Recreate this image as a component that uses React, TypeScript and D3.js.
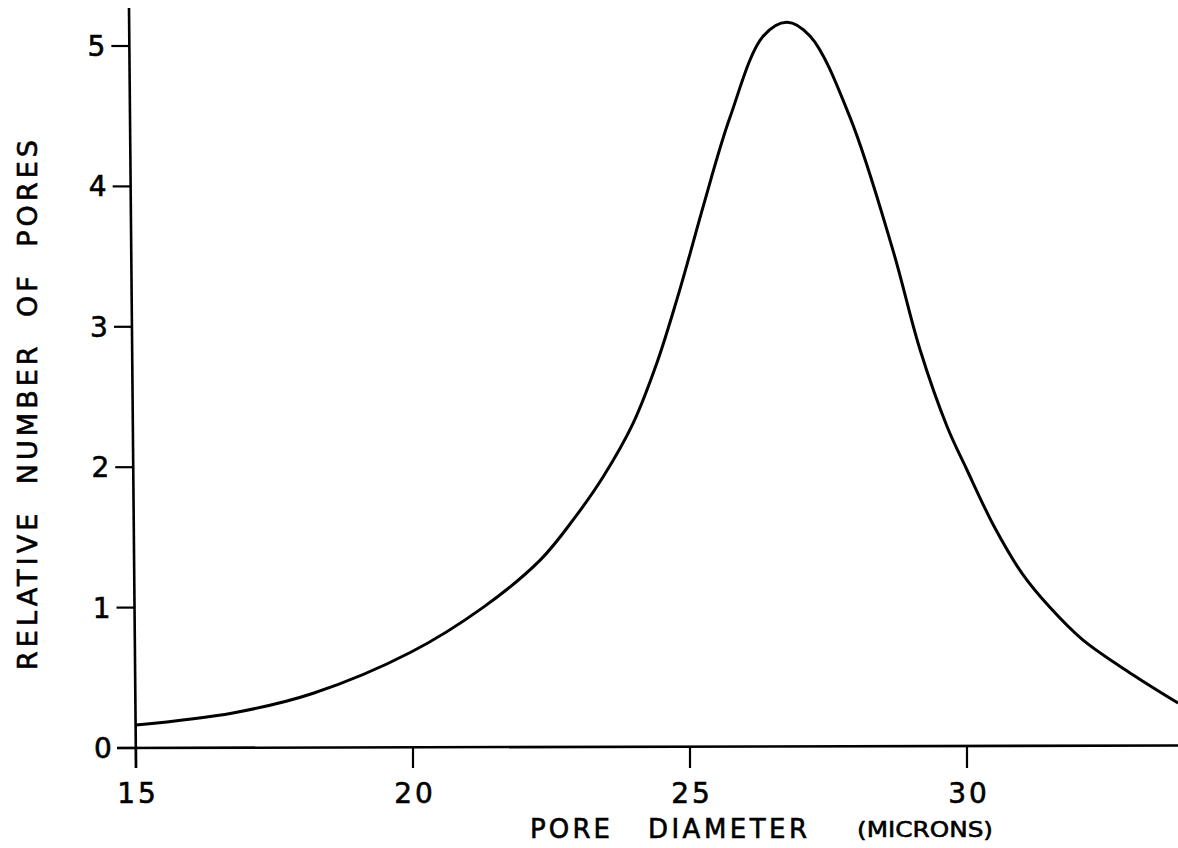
import React from "react";
import * as d3 from "d3";

// Pore size distribution: relative number of pores vs pore diameter (microns)
const poreDiameter = [
  15, 16.75, 18.2, 19.95, 21.26, 22.3, 22.9, 23.43, 23.97, 24.4, 24.76, 25.0,
  25.24, 25.72, 26.32, 26.75, 27.17, 27.89, 28.66, 29.15, 29.64, 30.0, 30.5,
  31.0, 31.5, 32.09, 33.0, 33.81,
];
const relativeNumber = [
  0.164, 0.25, 0.39, 0.68, 1.0, 1.34, 1.63, 1.93, 2.31, 2.74, 3.19, 3.52, 3.86,
  4.49, 5.07, 5.17, 5.07, 4.49, 3.55, 2.84, 2.29, 1.98, 1.57, 1.24, 1.0, 0.77,
  0.52, 0.32,
];
const xTicks = [15, 20, 25, 30];
const yTicks = [0, 1, 2, 3, 4, 5];

const W = 1178;
const H = 848;
const FONT = "'DejaVu Sans', sans-serif";

export default function App() {
  const x = d3.scaleLinear().domain([15, 34]).range([136, 136 + 19 * 55.4]);
  const y = d3.scaleLinear().domain([0, 5]).range([748, 46]);

  // the hand-drawn vertical axis leans slightly
  const axisTop = 8;
  const axisBottom = 768;
  const axisX = (py: number) => 129 + ((py - axisTop) * 7) / (axisBottom - axisTop);

  const points: [number, number][] = poreDiameter.map((d, i) => [d, relativeNumber[i]]);
  const line = d3
    .line<[number, number]>()
    .x((d) => x(d[0]))
    .y((d) => y(d[1]))
    .curve(d3.curveCatmullRom.alpha(0.5));

  const textStyle = { stroke: "#000", strokeWidth: 0.6 };

  return (
    <svg
      width={W}
      height={H}
      viewBox={`0 0 ${W} ${H}`}
      style={{ position: "absolute", left: 0, top: 0, background: "#fff" }}
    >
      <rect x={0} y={0} width={W} height={H} fill="#fff" />
      {/* axes */}
      <line
        x1={axisX(axisTop)}
        y1={axisTop}
        x2={axisX(axisBottom)}
        y2={axisBottom}
        stroke="#000"
        strokeWidth={2.6}
      />
      <line x1={117} y1={y(0)} x2={W} y2={y(0) - 2.5} stroke="#000" strokeWidth={2.6} />

      {/* y ticks */}
      {yTicks.map((t) => {
        const py = y(t);
        const ax = axisX(py);
        return (
          <g key={`y${t}`}>
            <line x1={ax - 18} y1={py} x2={ax} y2={py} stroke="#000" strokeWidth={2.2} />
            <text
              x={ax - 24}
              y={py}
              dy="0.36em"
              textAnchor="end"
              fontFamily={FONT}
              fontSize={28}
              fill="#000"
              style={textStyle}
            >
              {t}
            </text>
          </g>
        );
      })}

      {/* x ticks */}
      {xTicks.map((t) => (
        <g key={`x${t}`}>
          <line
            x1={x(t)}
            y1={y(0) - (x(t) - 117) * (2.5 / (W - 117))}
            x2={x(t)}
            y2={768}
            stroke="#000"
            strokeWidth={2.2}
          />
          <text
            x={x(t) + 2}
            y={803}
            textAnchor="middle"
            fontFamily={FONT}
            fontSize={28}
            letterSpacing={3}
            fill="#000"
            style={textStyle}
          >
            {t}
          </text>
        </g>
      ))}

      {/* curve */}
      <path d={line(points) ?? ""} fill="none" stroke="#000" strokeWidth={3} />

      {/* axis titles */}
      <text x={530} y={838} fontFamily={FONT} fontSize={26} fill="#000" style={textStyle} textLength={80} lengthAdjust="spacing">
        PORE
      </text>
      <text x={648} y={838} fontFamily={FONT} fontSize={26} fill="#000" style={textStyle} textLength={159} lengthAdjust="spacing">
        DIAMETER
      </text>
      <text x={857} y={837} fontFamily={FONT} fontSize={22} fill="#000" style={textStyle} textLength={136} lengthAdjust="spacingAndGlyphs">
        (MICRONS)
      </text>
      <text
        transform="translate(37,670) rotate(-90)"
        x={0}
        y={0}
        fontFamily={FONT}
        fontSize={27}
        fill="#000"
        textLength={530}
        lengthAdjust="spacing"
        style={{ ...textStyle, whiteSpace: "pre" }}
      >
        RELATIVE  NUMBER  OF  PORES
      </text>
    </svg>
  );
}
